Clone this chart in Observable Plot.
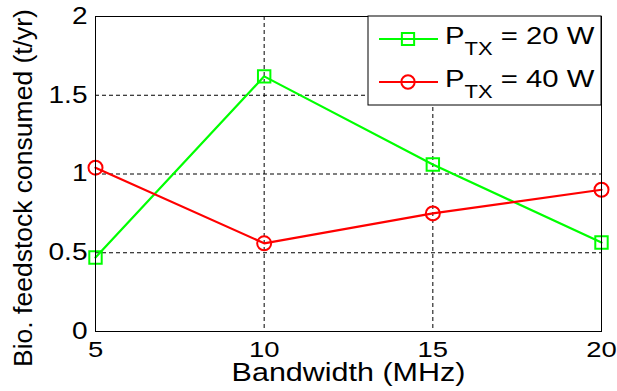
<!DOCTYPE html>
<html><head><meta charset="utf-8">
<script src="https://cdn.jsdelivr.net/npm/d3@7"></script>
<script src="https://cdn.jsdelivr.net/npm/@observablehq/plot@0.6"></script>
<style>
body{margin:0;background:#fff;}
#chart{width:617px;height:391px;}
svg text{font-family:"Liberation Sans",Arial,sans-serif;}
</style></head><body><div id="chart"></div>
<script>
const bandwidth = [5, 10, 15, 20];
const p20 = [0.47, 1.62, 1.06, 0.565];
const p40 = [1.04, 0.56, 0.75, 0.90];
const seriesMain = ["P", "P"];
const seriesSub = ["TX", "TX"];
const seriesRest = [" = 20 W", " = 40 W"];
const colors = ["#00ff00", "#ff0000"];
const symbols = ["square", "circle"];
const xTicks = [5, 10, 15, 20];
const yTicks = [0, 0.5, 1, 1.5, 2];
const xGrid = [10, 15];
const yGrid = [0.5, 1, 1.5];
const xLabel = "Bandwidth (MHz)";
const yLabel = "Bio. feedstock consumed (t/yr)";

const d20 = bandwidth.map((b, i) => ({bw: b, v: p20[i]}));
const d40 = bandwidth.map((b, i) => ({bw: b, v: p40[i]}));

const W = 617, H = 391, mL = 95, mR = 16, mT = 16, mB = 60;
const SX = 1.22;

const plot = Plot.plot({
  width: W, height: H,
  marginLeft: mL, marginRight: mR, marginTop: mT, marginBottom: mB,
  style: {fontFamily: "Liberation Sans, Arial, sans-serif", background: "#fff", color: "#000", overflow: "visible"},
  x: {domain: [5, 20]},
  y: {domain: [0, 2]},
  marks: [
    Plot.gridX(xGrid, {stroke: "#000", strokeOpacity: 1, strokeDasharray: "4,3", strokeWidth: 1}),
    Plot.gridY(yGrid, {stroke: "#000", strokeOpacity: 1, strokeDasharray: "4,3", strokeWidth: 1}),
    Plot.axisX(xTicks, {tickSize: 0, tickPadding: 10, fontSize: 22.5, label: null, fill: "#000", tickFormat: d => String(d)}),
    Plot.axisY(yTicks, {tickSize: 0, tickPadding: 8, fontSize: 23, label: null, fill: "#000", tickFormat: d => String(d)}),
    Plot.line(d20, {x: "bw", y: "v", stroke: colors[0], strokeWidth: 2.2}),
    Plot.dot(d20, {x: "bw", y: "v", symbol: symbols[0], r: 7, stroke: colors[0], strokeWidth: 2, fill: "none"}),
    Plot.line(d40, {x: "bw", y: "v", stroke: colors[1], strokeWidth: 2.2}),
    Plot.dot(d40, {x: "bw", y: "v", symbol: symbols[1], r: 7, stroke: colors[1], strokeWidth: 2, fill: "none"}),
    Plot.text([xLabel], {text: d => d, frameAnchor: "bottom", textAnchor: "middle", lineAnchor: "top", dy: 32, fontSize: 25, fill: "#000"}),
    Plot.text([yLabel], {text: d => d, frameAnchor: "left", textAnchor: "middle", lineAnchor: "middle", rotate: -90, dx: -72, dy: 14, fontSize: 26.5, fill: "#000"}),
    Plot.frame({stroke: "#000", strokeWidth: 1})
  ]
});
document.getElementById("chart").appendChild(plot);

const svg = d3.select(plot);
// legend
const legRight = W - mR, legTop = mT;
const lg = svg.append("g").attr("class", "legend");
lg.append("rect").attr("x", 368).attr("y", legTop).attr("width", legRight - 368).attr("height", 89)
  .attr("fill", "#fff").attr("stroke", "#000").attr("stroke-width", 1);
[0, 1].forEach(i => {
  const cy = legTop + 23 + i * 43;
  lg.append("line").attr("x1", 379).attr("x2", 438).attr("y1", cy).attr("y2", cy)
    .attr("stroke", colors[i]).attr("stroke-width", 2.2);
  const sym = d3.symbol(i === 0 ? d3.symbolSquare : d3.symbolCircle, i === 0 ? 150 : 140)();
  lg.append("path").attr("d", sym).attr("transform", `translate(408,${cy})`)
    .attr("fill", "none").attr("stroke", colors[i]).attr("stroke-width", 2);
  const t = lg.append("text").attr("x", 445).attr("y", cy + 5).attr("fill", "#000")
    .attr("text-anchor", "start").style("font-size", "24px");
  t.append("tspan").text(seriesMain[i]);
  t.append("tspan").attr("dy", 11).style("font-size", "18px").text(seriesSub[i]);
  t.append("tspan").attr("dy", -11).text(seriesRest[i]);
});

// horizontal stretch of non-rotated text
svg.selectAll("text").each(function() {
  const T = this.getAttribute("transform") || "";
  if (T.includes("rotate")) return;
  const x = parseFloat(this.getAttribute("x")) || 0;
  const y = parseFloat(this.getAttribute("y")) || 0;
  this.setAttribute("transform", `${T} translate(${x},${y}) scale(${SX},1) translate(${-x},${-y})`);
});
</script></body></html>
